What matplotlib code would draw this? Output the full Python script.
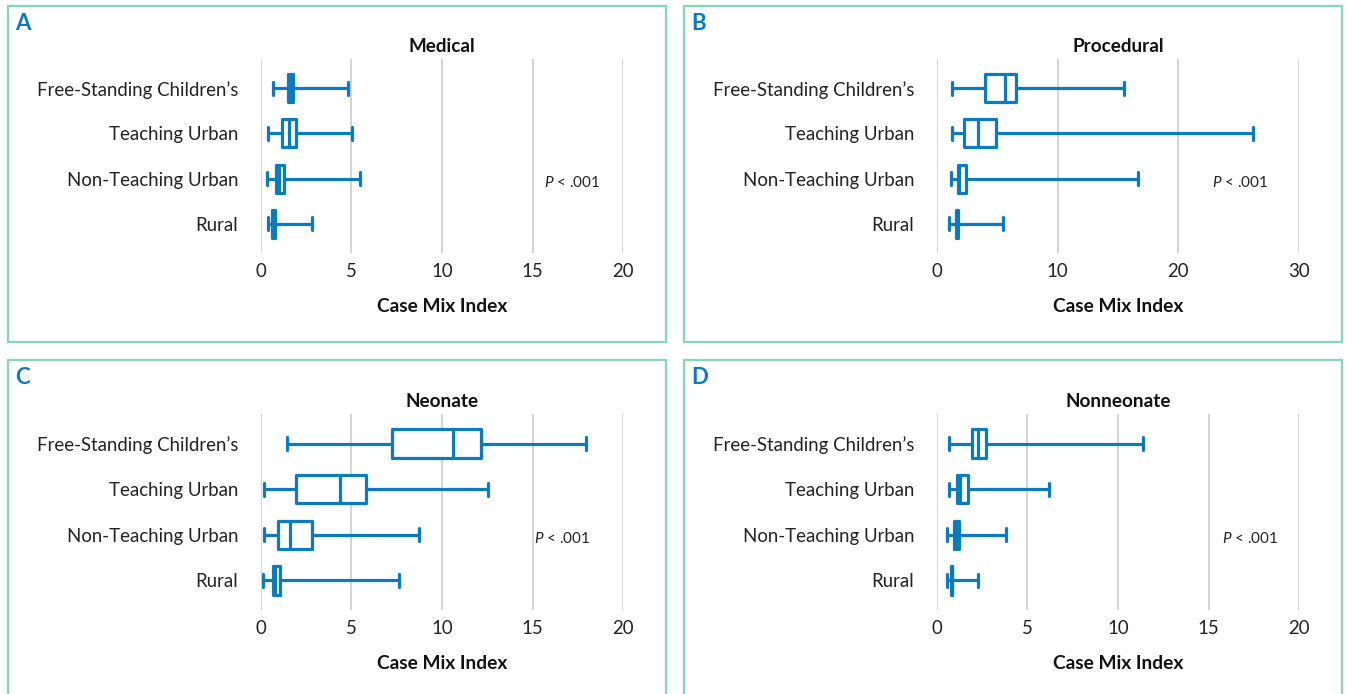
import matplotlib
matplotlib.use("Agg")
import matplotlib.pyplot as plt
from matplotlib.patches import Rectangle

plt.rcParams['font.family'] = ['Lato', 'DejaVu Sans']
plt.rcParams['mathtext.fontset'] = 'custom'
plt.rcParams['mathtext.it'] = 'Lato:italic'
plt.rcParams['mathtext.rm'] = 'Lato'

categories = ["Free-Standing Children\u2019s", "Teaching Urban", "Non-Teaching Urban", "Rural"]

# [whisker low, Q1, median, Q3, whisker high] per category
medical = [[0.70, 1.49, 1.62, 1.76, 4.80],
           [0.40, 1.16, 1.58, 1.95, 5.06],
           [0.33, 0.85, 1.03, 1.31, 5.50],
           [0.40, 0.64, 0.72, 0.79, 2.83]]
procedural = [[1.30, 4.00, 5.65, 6.53, 15.47],
              [1.30, 2.29, 3.39, 4.91, 26.19],
              [1.19, 1.76, 1.87, 2.43, 16.65],
              [1.05, 1.57, 1.65, 1.74, 5.49]]
neonate = [[1.47, 7.26, 10.61, 12.17, 17.94],
           [0.18, 1.93, 4.36, 5.79, 12.54],
           [0.18, 0.97, 1.62, 2.81, 8.71],
           [0.15, 0.70, 0.81, 1.07, 7.61]]
nonneonate = [[0.70, 1.93, 2.28, 2.72, 11.40],
              [0.68, 1.10, 1.31, 1.75, 6.21],
              [0.55, 0.97, 1.10, 1.23, 3.82],
              [0.55, 0.77, 0.83, 0.86, 2.30]]

titles = ["Medical", "Procedural", "Neonate", "Nonneonate"]
letters = ["A", "B", "C", "D"]
xmaxes = [20, 30, 20, 20]
xticks = [[0, 5, 10, 15, 20], [0, 10, 20, 30], [0, 5, 10, 15, 20], [0, 5, 10, 15, 20]]
p_text_x = [17.2, 25.1, 16.6, 17.3]
xlabel = "Case Mix Index"
p_label = r"$\mathit{P}$ < .001"

W, H = 1346, 694
fig = plt.figure(figsize=(W / 100, H / 100), dpi=100)
fig.patch.set_facecolor("white")

BLUE = "#0b7bbf"
GREEN = "#86d4bd"

def fx(px):
    return px / W

def fy(py):
    return 1 - py / H

# panel borders (pixel coords: left, top, right, bottom)
borders = [(7.5, 5.5, 666, 342), (683.5, 5.5, 1342, 342),
           (7.5, 360, 666, 700), (683.5, 360, 1342, 700)]
for (l, t, r, b) in borders:
    fig.patches.append(Rectangle((fx(l), fy(b)), fx(r) - fx(l), fy(t) - fy(b),
                                 transform=fig.transFigure, fill=False,
                                 edgecolor=GREEN, linewidth=1.6, zorder=0))

# axes rectangles (pixel coords: left, top, right, bottom)
axrects = [(260.6, 59, 623.3, 253), (936.7, 59, 1299.3, 253),
           (260.6, 414, 623.3, 610), (936.7, 414, 1299.3, 610)]
datasets = [medical, procedural, neonate, nonneonate]

for i in range(4):
    l, t, r, b = axrects[i]
    ax = fig.add_axes([fx(l), fy(b), fx(r) - fx(l), fy(t) - fy(b)])
    data = datasets[i]
    stats = []
    for row in data:
        stats.append(dict(whislo=row[0], q1=row[1], med=row[2], q3=row[3],
                          whishi=row[4], fliers=[]))
    line = dict(color=BLUE, linewidth=2.3, solid_joinstyle="round", solid_capstyle="round")
    ax.bxp(stats, positions=range(len(categories)), orientation="horizontal",
           widths=0.62, capwidths=0.29, showfliers=False, patch_artist=True,
           boxprops=dict(facecolor="white", edgecolor=BLUE, linewidth=2.3, joinstyle="round"),
           medianprops=line, whiskerprops=line, capprops=line, zorder=3)
    ax.set_ylim(3.65, -0.65)
    ax.set_xlim(0, xmaxes[i])
    ax.set_xticks(xticks[i])
    ax.set_yticks(range(len(categories)))
    ax.set_yticklabels(categories)
    ax.tick_params(axis="y", length=0, pad=16, labelsize=13.4, labelcolor="#222222")
    ax.tick_params(axis="x", length=0, pad=7, labelsize=13.4, labelcolor="#222222")
    for s in ax.spines.values():
        s.set_visible(False)
    ax.grid(axis="x", color="#d6d6d6", linewidth=1.5, zorder=0)
    ax.set_axisbelow(True)
    ax.set_facecolor("none")
    ax.set_title(titles[i], fontsize=13.6, fontweight="bold", pad=5, color="#111111")
    ax.set_xlabel(xlabel, fontsize=13.8, fontweight="bold", labelpad=13, color="#111111")
    ax.text(p_text_x[i], 2.08, p_label, fontsize=11, ha="center", va="center", color="#222222")

# panel letters
letter_pos = [(15, 24), (691, 24), (15, 378), (691, 378)]
for lt, (px, py) in zip(letters, letter_pos):
    fig.text(fx(px), fy(py), lt, fontsize=16, fontweight="bold", color=BLUE,
             ha="left", va="center")

fig.savefig("out.png", dpi=100, facecolor="white")
